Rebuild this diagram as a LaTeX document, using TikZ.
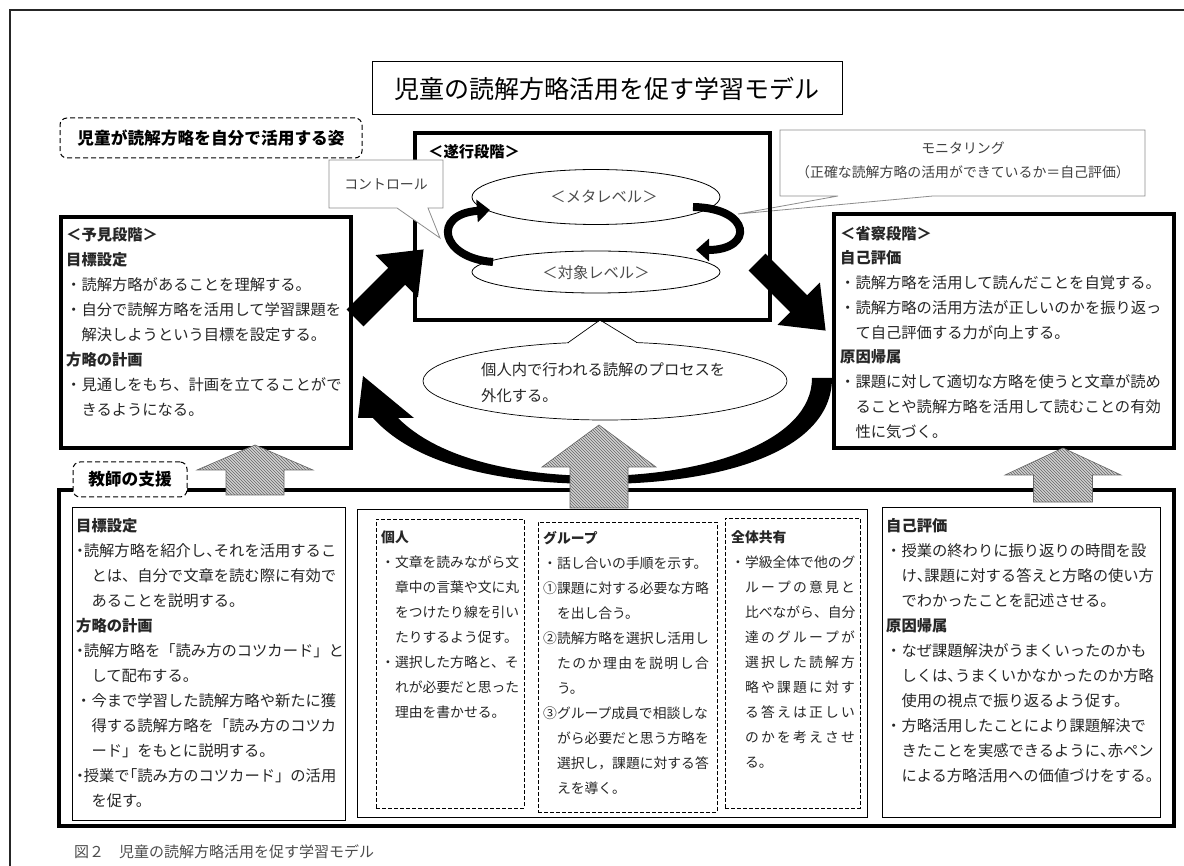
\documentclass[tikz,border=0pt]{standalone}
\usepackage{fontspec}
\newfontfamily\jp{Noto Sans CJK JP}
\usetikzlibrary{patterns,arrows.meta,shapes.geometric,fit}
\newcommand\hw[1]{{\addfontfeatures{RawFeature=+halt}#1}}
\makeatletter
\newcommand\spread[2]{\makebox[#1][s]{\spread@aux#2\relax}}
\def\spread@aux#1{\ifx\relax#1\else#1\expandafter\spread@next\fi}
\def\spread@next#1{\ifx\relax#1\else\hfil#1\expandafter\spread@next\fi}
\makeatother
\tikzset{
 thickbox/.style={draw, line width=3.2pt, inner sep=0pt},
 thinbox/.style={draw, line width=1pt, inner sep=0pt},
 dashbox/.style={draw, line width=.9pt, dash pattern=on 4pt off 2pt, inner sep=0pt},
 labelbox/.style={draw, line width=1pt, dash pattern=on 5pt off 3pt, rounded corners=7pt, inner sep=0pt, fill=white},
 body/.style={anchor=north west, inner sep=0pt, align=left, text=black!85, font=\jp\fontsize{15.3}{25}\selectfont},
 smallbody/.style={anchor=north west, inner sep=0pt, align=left, text=black!85, font=\jp\fontsize{13.8}{25}\selectfont},
 callout/.style={draw=black!45, line width=.8pt, fill=white},
 calltext/.style={inner sep=0pt, align=center, text=black!75, font=\jp\fontsize{13.9}{24}\selectfont},
 hdr/.style={inner sep=0pt, font=\jp\bfseries\fontsize{15.3}{18}\selectfont},
 ell/.style={draw, ellipse, line width=.8pt, fill=white, inner sep=0pt},
 elltext/.style={inner sep=0pt, text=black!70, font=\jp\fontsize{15.3}{18}\selectfont},
 hatchbase/.style={fill=black!18},
 hatchpat/.style={pattern=north west lines, pattern color=black!60},
 hatchline/.style={draw=black!60, line width=.6pt},
 curl/.style={line width=8pt, -{Triangle[length=13pt,width=22pt]}}
}
\newcommand\blockarrow[3]{%
 \fill[black, shift={#1}, rotate=#2] (0,-12) -- ({#3-38},-12) -- ({#3-38},-30) -- (#3,0) -- ({#3-38},30) -- ({#3-38},12) -- (0,12) -- cycle;}
\newcommand\hatcharrow[6]{% tipx tipy headhalf basey shafthalf bottomy
 \path[hatchbase] (#1,#2) -- ({#1+#3},#4) -- ({#1+#5},#4) -- ({#1+#5},#6) -- ({#1-#5},#6) -- ({#1-#5},#4) -- ({#1-#3},#4) -- cycle;
 \path[hatchpat] (#1,#2) -- ({#1+#3},#4) -- ({#1+#5},#4) -- ({#1+#5},#6) -- ({#1-#5},#6) -- ({#1-#5},#4) -- ({#1-#3},#4) -- cycle;
 \path[hatchline] (#1,#2) -- ({#1+#3},#4) -- ({#1+#5},#4) -- ({#1+#5},#6) -- ({#1-#5},#6) -- ({#1-#5},#4) -- ({#1-#3},#4) -- cycle;}
\begin{document}
\begin{tikzpicture}[x=1pt,y=-1pt]
\useasboundingbox (0,0) rectangle (1184,866);
\fill[white] (0,0) rectangle (1184,866);
% outer frame
\draw[line width=2pt, black!85] (10,866) -- (10,10) -- (1184,10);

% title
\node[draw, line width=1pt, minimum width=470pt, minimum height=53pt, inner sep=0pt, font=\jp\fontsize{25}{30}\selectfont] (title) at (607,88.5) {児童の読解方略活用を促す学習モデル};
\node[labelbox, minimum width=302pt, minimum height=40pt, font=\jp\bfseries\fontsize{16.7}{20}\selectfont] (sugata) at (211,138) {児童が読解方略を自分で活用する姿};

% monitoring callout
\path[callout] (780,130) -- (1145,130) -- (1145,196) -- (933,196) -- (738,214) -- (838,196) -- (780,196) -- cycle;
\node[calltext] (mon) at (963,160) {モニタリング\\（正確な読解方略の活用ができているか＝自己評価）};

% suiko
\node[thickbox, fit={(415,133) (770,320)}] (suiko) {};
\node[hdr, anchor=west] (suikoT) at (428,152) {＜遂行段階＞};
\node[ell, minimum width=248pt, minimum height=55pt] (meta) at (596,197) {};
\node[elltext] (metaT) at (604,197) {＜メタレベル＞};
\node[ell, minimum width=248pt, minimum height=42pt] (taisho) at (596,272) {};
\node[elltext] (taishoT) at (596,273) {＜対象レベル＞};
\draw[curl] (493,262) .. controls (440,258) and (432,214) .. (490,210);
\draw[curl] (693,207) .. controls (752,208) and (754,250) .. (696,250);

% control callout
\path[callout] (329,160) -- (443,160) -- (443,208) -- (428,208) -- (440,238) -- (397,208) -- (329,208) -- cycle;
\node[calltext] (ctrl) at (386,184) {コントロール};

% yoken
\node[thickbox, fit={(61,217) (351,448)}] (yoken) {};
\node[body] (yokenT) at (66,223.3) {\strut\textbf{＜予見段階＞}\\
\textbf{目標設定}\\
・読解方略があることを理解する。\\
・自分で読解方略を活用して学習課題を\\
　解決しようという目標を設定する。\\
\textbf{方略の計画}\\
・見通しをもち、計画を立てることがで\\
　きるようになる。};

% shosatsu
\node[thickbox, fit={(834,214) (1174,448)}] (shosatsu) {};
\node[body, font=\jp\fontsize{15.3}{24.75}\selectfont] (shosatsuT) at (840,221.5) {\strut\textbf{＜省察段階＞}\\
\textbf{自己評価}\\
・読解方略を活用して読んだことを自覚する。\\
・読解方略の活用方法が正しいのかを振り返っ\\
　て自己評価する力が向上する。\\
\textbf{原因帰属}\\
・課題に対して適切な方略を使うと文章が読め\\
　ることや読解方略を活用して読むことの有効\\
　性に気づく。};

% black block arrows
\blockarrow{(355,318)}{45}{97}
\blockarrow{(757,262)}{-45}{97}

% big curved arrow
\fill[black] (363,376) -- (414,418) -- (398,418) .. controls (440,460) and (520,476) .. (600,476) .. controls (710,475) and (812,440) .. (812,378) -- (832,378) .. controls (832,452) and (720,484) .. (600,484) .. controls (515,484) and (420,470) .. (373,418) -- (358,418) -- cycle;

% externalisation callout
\node[ell, line width=.7pt, minimum width=364pt, minimum height=78pt] (gaika) at (605,381) {};
\fill[white] (569,341) -- (600,321) -- (636,341) -- (636,344.5) -- (569,344.5) -- cycle;
\draw[line width=.7pt] (568,342.7) -- (600,320) -- (637,342.6);
\node[body, font=\jp\fontsize{15.3}{26}\selectfont] (gaikaT) at (481,357.6) {\strut 個人内で行われる読解のプロセスを\\外化する。};

% teacher support
\node[thickbox, fit={(59,490) (1174,826)}] (teacher) {};
\node[thinbox, fit={(72,507) (345,820)}] (tleft) {};
\node[thinbox, fit={(357,509) (867,817)}] (tmid) {};
\node[thinbox, fit={(882,507) (1160,817)}] (tright) {};
\node[dashbox, fit={(376,519) (524,808)}] (kojin) {};
\node[dashbox, fit={(538,522) (717,812)}] (group) {};
\node[dashbox, fit={(725,518) (860,808)}] (zentai) {};

\node[body] (tleftT) at (76,513.3) {\strut\textbf{目標設定}\\
\hw{・}読解方略を紹介し\hw{、}それを活用するこ\\
　とは、自分で文章を読む際に有効で\\
　あることを説明する。\\
\textbf{方略の計画}\\
\hw{・}読解方略を「読み方のコツカード」と\\
　して配布する。\\
・今まで学習した読解方略や新たに獲\\
　得する読解方略を「読み方のコツカ\\
　ード」をもとに説明する。\\
\hw{・}授業で\hw{「}読み方のコツカード」の活用\\
　を促す。};

\node[smallbody] (kojinT) at (381,524.7) {\strut\textbf{個人}\\
・文章を読みながら文\\
　章中の言葉や文に丸\\
　をつけたり線を引い\\
　たりするよう促す。\\
・選択した方略と、そ\\
　れが必要だと思った\\
　理由を書かせる。};

\node[smallbody] (groupT) at (543,525.7) {\strut\textbf{グループ}\\
・話し合いの手順を示す。\\
①課題に対する必要な方略\\
　を出し合う。\\
②読解方略を選択し活用し\\
　\spread{152pt}{たのか理由を説明し合}\\
　う。\\
③グループ成員で相談しな\\
　がら必要だと思う方略を\\
　選択し，課題に対する答\\
　えを導く。};

\node[smallbody] (zentaiT) at (731,524.7) {\strut\textbf{全体共有}\\
・学級全体で他のグ\\
　\spread{110pt}{ループの意見と}\\
　\spread{110pt}{比べながら、自分}\\
　\spread{110pt}{達のグループが}\\
　\spread{110pt}{選択した読解方}\\
　\spread{110pt}{略や課題に対す}\\
　\spread{110pt}{る答えは正しい}\\
　\spread{110pt}{のかを考えさせ}\\
　る。};

\node[body] (trightT) at (886,513.3) {\strut\textbf{自己評価}\\
・授業の終わりに振り返りの時間を設\\
　け\hw{、}課題に対する答えと方略の使い方\\
　でわかったことを記述させる。\\
\textbf{原因帰属}\\
・なぜ課題解決がうまくいったのかも\\
　しくは\hw{、}うまくいかなかったのか方略\\
　使用の視点で振り返るよう促す。\\
・方略活用したことにより課題解決で\\
　きたことを実感できるように\hw{、}赤ペン\\
　による方略活用への価値づけをする。};

\node[labelbox, minimum width=114pt, minimum height=35pt, font=\jp\bfseries\fontsize{16.7}{20}\selectfont] (shien) at (130,479.5) {教師の支援};

% hatched arrows
\hatcharrow{255}{445}{58}{470}{29}{495}
\hatcharrow{599}{425}{57}{467}{29}{508}
\hatcharrow{1063}{448}{58}{475}{29.5}{502}

% caption
\node[anchor=west, inner sep=0pt, text=black!70, font=\jp\fontsize{15}{18}\selectfont] (caption) at (74,852) {図２　児童の読解方略活用を促す学習モデル};
\end{tikzpicture}
\end{document}
